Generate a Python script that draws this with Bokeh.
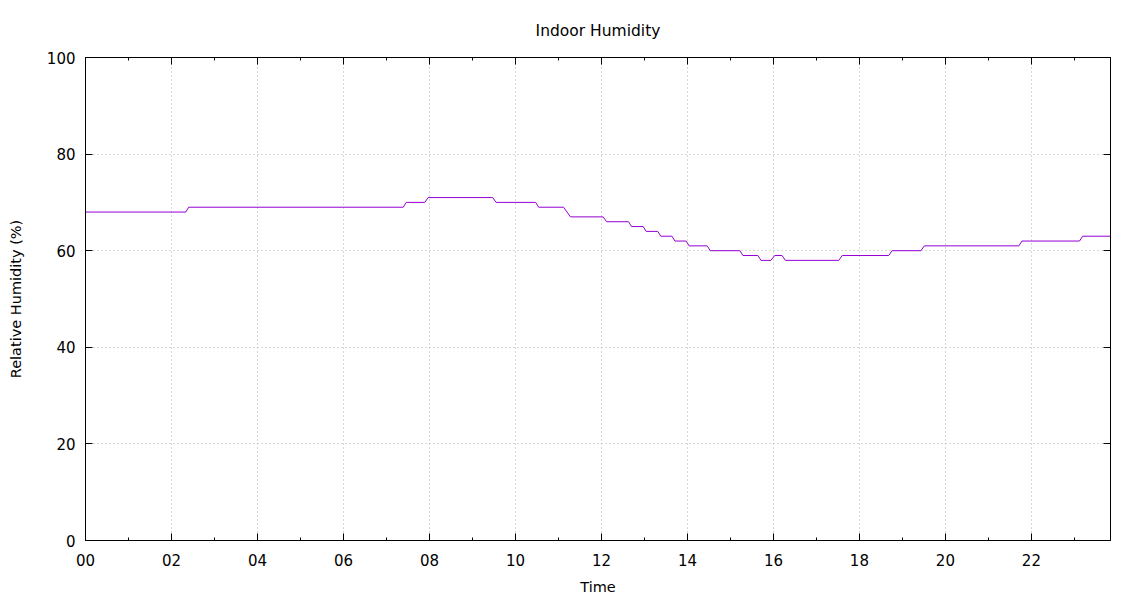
from bokeh.plotting import figure
from bokeh.models import Range1d, FixedTicker, LinearAxis
from bokeh.embed import file_html
from bokeh.resources import INLINE

# Data (time in hours, relative humidity in %)
hours = [0.00, 2.33, 2.40, 7.39, 7.46, 7.89, 7.97, 9.47, 9.55, 10.47, 10.54,
         11.12, 11.28, 12.04, 12.12, 12.63, 12.70, 12.97, 13.04, 13.31, 13.38,
         13.64, 13.71, 13.97, 14.04, 14.46, 14.53, 15.22, 15.29, 15.64, 15.71,
         15.94, 16.03, 16.20, 16.28, 17.52, 17.60, 18.68, 18.76, 19.43, 19.51,
         21.71, 21.78, 23.12, 23.19, 23.84]
humidity = [68, 68, 69, 69, 70, 70, 71, 71, 70, 70, 69,
            69, 67, 67, 66, 66, 65, 65, 64, 64, 63,
            63, 62, 62, 61, 61, 60, 60, 59, 59, 58,
            58, 59, 59, 58, 58, 59, 59, 60, 60, 61,
            61, 62, 62, 63, 63]

x_major = [0, 2, 4, 6, 8, 10, 12, 14, 16, 18, 20, 22]
x_minor = list(range(0, 24))
x_labels = ["00", "02", "04", "06", "08", "10", "12", "14", "16", "18", "20", "22"]
y_major = [0, 20, 40, 60, 80, 100]

FONT = "DejaVu Sans"

p = figure(frame_width=1025, frame_height=483,
           min_border_left=85, min_border_right=28, min_border_top=57, min_border_bottom=58,
           x_range=Range1d(0, 23.84), y_range=Range1d(0, 100),
           output_backend="svg", toolbar_location=None,
           title="Indoor Humidity")
p.background_fill_color = "white"
p.border_fill_color = "white"
p.outline_line_color = "black"
p.outline_line_width = 1

p.title.align = "center"
p.title.text_font = FONT
p.title.text_font_size = "15.5px"
p.title.text_font_style = "normal"
p.title.text_color = "black"
p.title.standoff = 35

p.line(hours, humidity, line_color="#9400D3", line_width=1)

xt = FixedTicker(ticks=x_major, minor_ticks=x_minor)
yt = FixedTicker(ticks=y_major, minor_ticks=[])

def style_axis(ax):
    ax.axis_line_color = "black"
    ax.major_tick_in = 7
    ax.major_tick_out = 0
    ax.minor_tick_in = 3
    ax.minor_tick_out = 0
    ax.major_tick_line_color = "black"
    ax.minor_tick_line_color = "black"
    ax.major_label_text_font = FONT
    ax.major_label_text_font_size = "15px"
    ax.major_label_text_color = "black"
    ax.axis_label_text_font = FONT
    ax.axis_label_text_font_size = "14.5px"
    ax.axis_label_text_font_style = "normal"
    ax.axis_label_text_color = "black"

xa = p.xaxis[0]
xa.ticker = xt
xa.major_label_overrides = {t: l for t, l in zip(x_major, x_labels)}
xa.axis_label = "Time"
style_axis(xa)
xa.major_label_standoff = 13
xa.axis_label_standoff = 10

ya = p.yaxis[0]
ya.ticker = yt
ya.axis_label = "Relative Humidity (%)"
style_axis(ya)
ya.major_label_standoff = 10
ya.axis_label_standoff = 20

top = LinearAxis(ticker=FixedTicker(ticks=x_major, minor_ticks=x_minor))
style_axis(top)
top.major_label_overrides = {t: "" for t in x_major}
top.major_label_standoff = 0
p.add_layout(top, "above")

right = LinearAxis(ticker=FixedTicker(ticks=y_major, minor_ticks=[]))
style_axis(right)
right.major_label_overrides = {t: "" for t in y_major}
right.major_label_standoff = 0
p.add_layout(right, "right")

for g in (p.xgrid[0], p.ygrid[0]):
    g.grid_line_color = "#b0b0b0"
    g.grid_line_dash = "1 3"
    g.grid_line_width = 1
p.xgrid[0].ticker = xt
p.ygrid[0].ticker = yt

open("out.html", "w").write(file_html(p, INLINE))
